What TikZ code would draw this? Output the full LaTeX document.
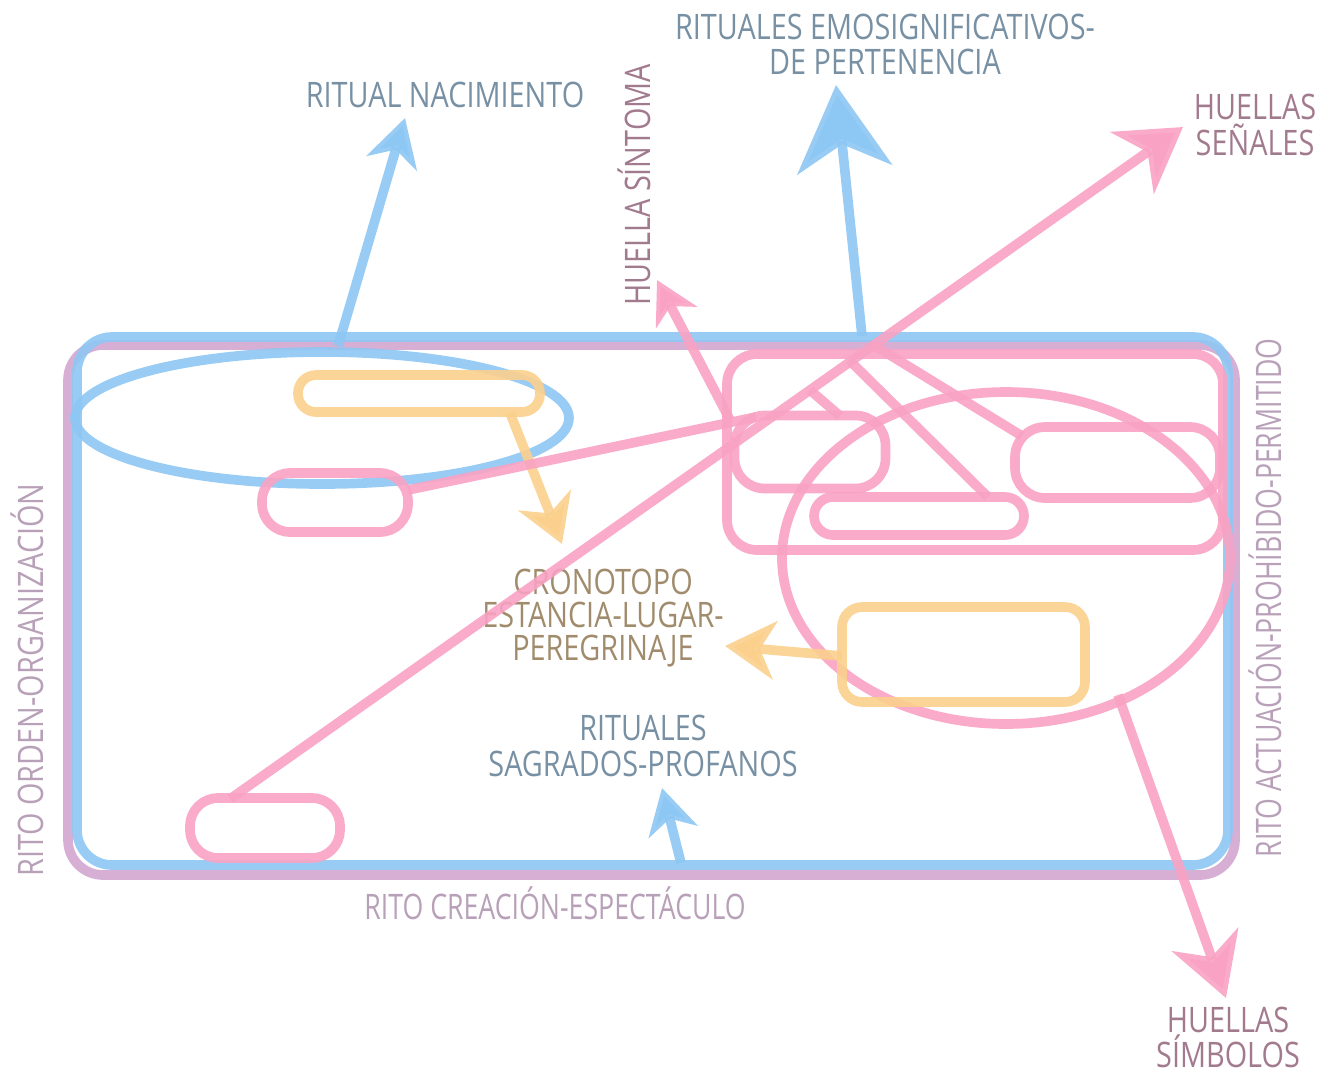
\documentclass[tikz,border=0pt]{standalone}
\usepackage{fontspec}
\newfontfamily\hand[FakeStretch=0.82]{Open Sans}
\newfontfamily\handn[FakeStretch=0.76]{Open Sans}
\usetikzlibrary{arrows.meta,shapes.geometric}
\definecolor{cblue}{HTML}{8DC7F3}
\definecolor{cpurple}{HTML}{D3A6D0}
\definecolor{cpink}{HTML}{F9A2C3}
\definecolor{corange}{HTML}{FBD08C}
\definecolor{tblue}{HTML}{7890A3}
\definecolor{tmauve}{HTML}{A27A8E}
\definecolor{tpurple}{HTML}{B8A0B8}
\definecolor{tbrown}{HTML}{A08C6C}
\begin{document}
\begin{tikzpicture}[x=0.02cm,y=-0.02cm,
  lw/.style={line width=5.5pt, draw opacity=0.9},
  sz/.style 2 args={minimum width=#1*0.02cm, minimum height=#2*0.02cm},
  rbox/.style={lw, rectangle, inner sep=0pt, rounded corners=#1*0.02cm},
  rbox/.default=20,
  lbl/.style={font=\hand\fontsize{20}{20}\selectfont, align=center, inner sep=0pt},
  lbln/.style={font=\handn\fontsize{20}{20}\selectfont, align=center, inner sep=0pt},
  tipA/.style 2 args={-{Stealth[length=#1*0.02cm, width=#2*0.02cm, inset=#1*0.006cm]}},
  conn/.style={lw, line cap=butt}]
\useasboundingbox (0,0) rectangle (1342,1076);
% frames
\node[rbox=35, draw=cpurple, sz={1167}{530}] (purp) at (651.5,610) {};
\node[rbox=35, draw=cblue, sz={1151}{528}] (blu) at (652.5,601) {};
% left part
\node[lw, ellipse, draw=cblue, sz={494}{132}, inner sep=0pt] (ell) at (322,418) {};
\node[rbox=18, draw=corange, sz={242}{37}] (o1) at (419,393.5) {};
\node[rbox=28, draw=cpink, sz={146}{59}] (p1) at (335,502.5) {};
\node[rbox=28, draw=cpink, sz={150}{60}] (p2) at (265,828) {};
% right group
\node[rbox=30, draw=cpink, sz={496}{196}] (grp) at (975,452) {};
\node[rbox=30, draw=cpink, sz={151}{73}] (pa) at (810,452) {};
\node[rbox=30, draw=cpink, sz={205}{71}] (pb) at (1117.5,462.5) {};
\node[rbox=19, draw=cpink, sz={210}{38}] (pc) at (919,516) {};
\node[lw, ellipse, draw=cpink, sz={448}{332}, inner sep=0pt] (bigell) at (1006,558) {};
\node[rbox=20, draw=corange, sz={243}{95}] (o2) at (963.5,654.5) {};
% labels
\node[lbl, text=tblue] (tnac) at (445,95) {RITUAL NACIMIENTO};
\node[lbl, text=tblue] (temo) at (885,44) {RITUALES EMOSIGNIFICATIVOS-\\DE PERTENENCIA};
\node[lbl, text=tmauve] (tsen) at (1255,125) {HUELLAS\\SEÑALES};
\node[lbl, text=tmauve, rotate=90] (tsin) at (634,185) {HUELLA SÍNTOMA};
\node[lbl, text=tbrown] (tcro) at (603,618) {CRONOTOPO\\[-1pt]ESTANCIA-LUGAR-\\[-1pt]PEREGRINAJE};
\node[lbl, text=tblue] (tsag) at (643,746) {RITUALES\\SAGRADOS-PROFANOS};
\node[lbln, text=tpurple] (tcre) at (555,903) {RITO CREACIÓN-ESPECTÁCULO};
\node[lbl, text=tpurple, rotate=90] (tord) at (27,680) {RITO ORDEN-ORGANIZACIÓN};
\node[lbln, text=tpurple, rotate=90] (tact) at (1265,598) {RITO ACTUACIÓN-PROHÍBIDO-PERMITIDO};
\node[lbl, text=tmauve] (tsim) at (1228,1037) {HUELLAS\\SÍMBOLOS};
% coordinates
\coordinate (nacS) at (338,346);
\coordinate (nacT) at (405,118);
\coordinate (emoS) at (862,336);
\coordinate (emoT) at (836,85);
\coordinate (sagS) at (681,863);
\coordinate (sagT) at (662,788);
\coordinate (senS) at (230,799);
\coordinate (senT) at (1183,127);
\coordinate (sinS) at (730,420);
\coordinate (sinT) at (657,280);
\coordinate (simS) at (1118,695);
\coordinate (simT) at (1226,998);
\coordinate (o1S) at (510,413);
\coordinate (o1T) at (562,544);
\coordinate (o2S) at (842,656);
\coordinate (o2T) at (725,646);
\coordinate (p1E) at (408,490);
\coordinate (paNW) at (756,417);
\coordinate (bA1) at (810,390);
\coordinate (bA2) at (840,416);
\coordinate (bC1) at (849,360);
\coordinate (bC2) at (988,497);
\coordinate (bB1) at (872,344);
\coordinate (bB2) at (1022,436);
% blue arrows
\draw[conn, cblue, tipA={47}{52}] (nacS) -- (nacT);
\draw[conn, cblue, tipA={85}{95}] (emoS) -- (emoT);
\draw[conn, cblue, tipA={45}{50}] (sagS) -- (sagT);
% orange arrows
\draw[conn, corange, tipA={47}{56}] (o1S) -- (o1T);
\draw[conn, corange, tipA={50}{58}] (o2S) -- (o2T);
% pink connectors
\draw[conn, cpink, tipA={62}{75}] (senS) -- (senT);
\draw[conn, cpink, tipA={42}{46}] (sinS) -- (sinT);
\draw[conn, cpink, tipA={62}{70}] (simS) -- (simT);
\draw[conn, cpink] (p1E) -- (paNW);
\draw[conn, cpink] (bA1) -- (bA2);
\draw[conn, cpink] (bC1) -- (bC2);
\draw[conn, cpink] (bB1) -- (bB2);
\end{tikzpicture}
\end{document}
